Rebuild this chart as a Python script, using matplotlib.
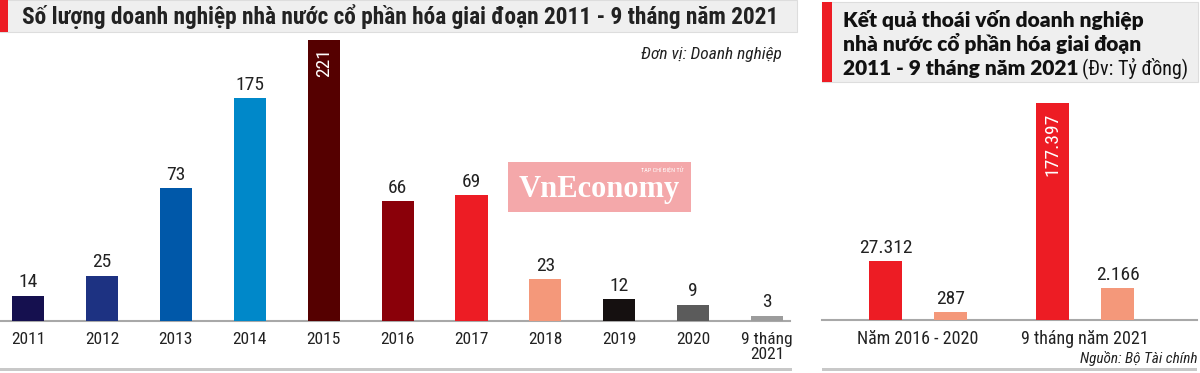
import matplotlib
matplotlib.use("Agg")
import matplotlib.pyplot as plt
from matplotlib import font_manager as fm
from matplotlib.patches import Rectangle
import numpy as np

# ---- data ----
years = ["2011", "2012", "2013", "2014", "2015", "2016", "2017",
         "2018", "2019", "2020", "9 tháng\n2021"]
n_firms = [14, 25, 73, 175, 221, 66, 69, 23, 12, 9, 3]
year_colors = ["#15104f", "#1d3282", "#0058a9", "#0088c9", "#550000", "#8a0009",
               "#ed1c24", "#f4987a", "#151010", "#5b5b5b", "#9c9c9c"]

groups = ["Năm 2016 - 2020", "9 tháng năm 2021"]
divest_a = [27312, 177397]   # red bars
divest_b = [287, 2166]       # salmon bars

W, H = 1200, 373
fig = plt.figure(figsize=(W / 100, H / 100), dpi=100)

names = {f.name for f in fm.fontManager.ttflist}
COND = next((n for n in ["Roboto Condensed", "Liberation Sans Narrow", "DejaVu Sans"]
             if n in names), "DejaVu Sans")
WIDE = next((n for n in ["Lato", "Open Sans", "DejaVu Sans"] if n in names), "DejaVu Sans")

RED = "#ed1c24"
SALMON = "#f4987a"
GREY_BG = "#efefef"
TXT = "#222222"


def px(x0, y0, x1, y1):
    # pixel box (top-left origin) -> figure fraction rect
    return [x0 / W, 1 - y1 / H, (x1 - x0) / W, (y1 - y0) / H]


def piecewise_scale(ax, knots_v, knots_t):
    fwd = lambda v: np.interp(v, knots_v, knots_t)
    inv = lambda t: np.interp(t, knots_t, knots_v)
    ax.set_yscale("function", functions=(fwd, inv))


def fig_rect(x0, y0, x1, y1, **kw):
    fig.patches.append(Rectangle((x0 / W, 1 - y1 / H), (x1 - x0) / W, (y1 - y0) / H,
                                 transform=fig.transFigure, **kw))


# ============================================================
# Left panel: number of equitized SOEs
# ============================================================
ax = fig.add_axes(px(0, 40, 790, 321))
x = np.arange(len(years))
piecewise_scale(ax, [0, 75, 175, 221, 400], [0, 136.5, 223, 281, 506])
ax.bar(x, n_firms, width=0.435, color=year_colors, zorder=3)
ax.set_ylim(0, 221)
ax.set_xlim(-0.38, 10.31)
for s in ["top", "right", "left"]:
    ax.spines[s].set_visible(False)
ax.spines["bottom"].set_color("#a8a8a8")
ax.spines["bottom"].set_linewidth(1.5)
ax.set_yticks([])
ax.set_xticks(x)
ax.set_xticklabels(years, fontsize=12.5, family=COND, color=TXT, linespacing=0.95)
ax.tick_params(axis="x", length=0, pad=8)
for i, v in enumerate(n_firms):
    if v == max(n_firms):
        ax.annotate(str(v), (i, v), xytext=(0, -6), textcoords="offset points",
                    ha="center", va="top", rotation=90, color="white",
                    fontsize=14, family=COND)
    else:
        ax.annotate(str(v), (i, v), xytext=(0, 3), textcoords="offset points",
                    ha="center", va="bottom", color=TXT, fontsize=14, family=COND)
ax.text(0.99, 0.95, "Đơn vị: Doanh nghiệp", transform=ax.transAxes, ha="right",
        va="center", fontsize=12.5, style="italic", family=COND, color=TXT)

# title bar
fig_rect(0, 0, 797, 32, facecolor=GREY_BG, edgecolor="#dddddd", lw=0.8)
fig_rect(0, 0, 8, 32, facecolor=RED, edgecolor="none")
fig.text(22 / W, 1 - 17 / H,
         "Số lượng doanh nghiệp nhà nước cổ phần hóa giai đoạn 2011 - 9 tháng năm 2021",
         fontsize=16.8, fontweight="bold", family=COND, color=TXT, va="center")
fig_rect(0, 368, 792, 371, facecolor="#c8c8c8", edgecolor="none")

# watermark
fig_rect(508, 162, 691, 212, facecolor="#f4a3a6", edgecolor="none", alpha=0.95)
fig.text(599 / W, 1 - 190 / H, "VnEconomy", fontsize=22, fontweight="bold",
         family="Liberation Serif", color="white", ha="center", va="center")
fig.text(683 / W, 1 - 170 / H, "TẠP CHÍ ĐIỆN TỬ", fontsize=4.5, color="white",
         ha="right", va="center", family=COND)

# ============================================================
# Right panel: divestment results
# ============================================================
ax2 = fig.add_axes(px(822, 100, 1197, 320))
g = np.arange(len(groups))
off, bw = 0.195, 0.198
piecewise_scale(ax2, [0, 300, 2000, 30000, 180000, 400000],
                [0, 8.4, 32, 62, 220, 450])
ax2.bar(g - off, divest_a, width=bw, color=RED, zorder=3)
ax2.bar(g + off, divest_b, width=bw, color=SALMON, zorder=3)
ax2.set_ylim(0, 180000)
ax2.set_xlim(-0.575, 1.671)
for s in ["top", "right", "left"]:
    ax2.spines[s].set_visible(False)
ax2.spines["bottom"].set_color("#a8a8a8")
ax2.spines["bottom"].set_linewidth(1.5)
ax2.set_yticks([])
ax2.set_xticks(g)
ax2.set_xticklabels(groups, fontsize=13, family=COND, color=TXT)
ax2.tick_params(axis="x", length=0, pad=7)


def vn(v):
    return f"{v:,}".replace(",", ".")


for i in g:
    for xx, v in [(i - off, divest_a[i]), (i + off, divest_b[i])]:
        if v == max(divest_a):
            ax2.annotate(vn(v), (xx, v), xytext=(0, -7), textcoords="offset points",
                         ha="center", va="top", rotation=90, color="white",
                         fontsize=14, family=COND)
        else:
            ax2.annotate(vn(v), (xx, v), xytext=(0, 3), textcoords="offset points",
                         ha="center", va="bottom", color=TXT, fontsize=14, family=COND)

fig.text(1197 / W, 1 - 358 / H, "Nguồn: Bộ Tài chính", ha="right", va="center",
         fontsize=11, style="italic", family=COND, color=TXT)
fig_rect(822, 368, 1197, 371, facecolor="#c8c8c8", edgecolor="none")

# title box
fig_rect(822, 2, 1198, 82, facecolor=GREY_BG, edgecolor="#dddddd", lw=0.8)
fig_rect(822, 2, 832, 82, facecolor=RED, edgecolor="none")
tkw = dict(fontsize=15, fontweight="heavy", family=WIDE, color="#111111", va="center")
fig.text(843 / W, 1 - 20 / H, "Kết quả thoái vốn doanh nghiệp", **tkw)
fig.text(843 / W, 1 - 44 / H, "nhà nước cổ phần hóa giai đoạn", **tkw)
t3 = fig.text(843 / W, 1 - 68 / H, "2011 - 9 tháng năm 2021", **tkw)
fig.canvas.draw()
bb = t3.get_window_extent()
fig.text((bb.x1 + 4) / W, 1 - 68 / H, "(Đv: Tỷ đồng)", fontsize=14.5, family=COND,
         color="#111111", va="center")

fig.savefig("out.png", dpi=100)
